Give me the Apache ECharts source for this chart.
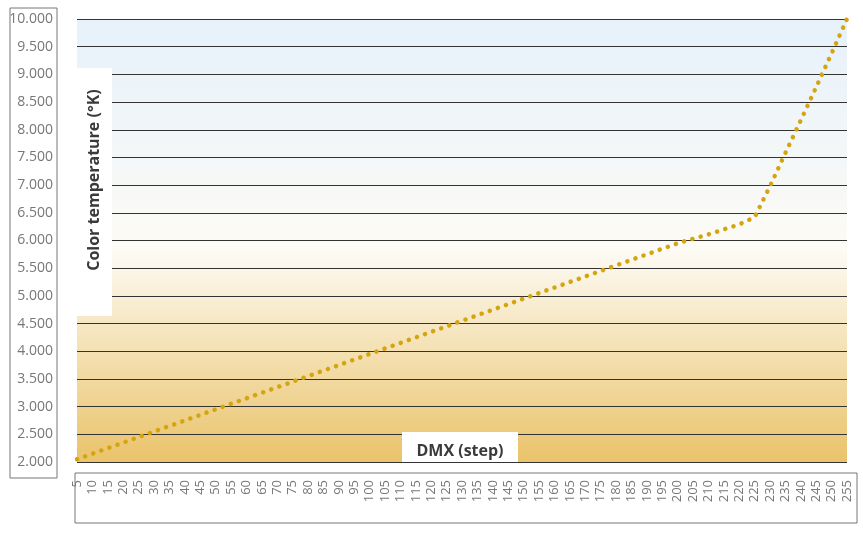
<!DOCTYPE html>
<html lang="en">
<head>
    <meta charset="UTF-8">
    <title>DMX color temperature</title>
    <script src="https://cdn.jsdelivr.net/npm/echarts@6/dist/echarts.min.js"></script>
</head>
<body style="margin:0;background:#fff">
<div id="main" style="width:863px; height:543px"></div>
<script>
    var steps = [];
    for (var s = 5; s <= 255; s += 5) steps.push(String(s));
    // kelvin at each step
    var kelvin = [2050, 2150, 2250, 2350, 2450, 2550, 2650, 2750, 2850, 2950,
        3050, 3150, 3250, 3350, 3450, 3550, 3650, 3750, 3850, 3950,
        4050, 4150, 4250, 4350, 4450, 4550, 4650, 4750, 4850, 4950,
        5050, 5150, 5250, 5350, 5450, 5550, 5650, 5750, 5850, 5950,
        6030, 6110, 6200, 6290, 6420, 6980, 7580, 8170, 8770, 9380, 10000];

    var myChart = echarts.init(document.getElementById('main'));
    option = {
        animation: false,
        grid: {left: 77, right: 16, top: 19, bottom: 81, show: true, borderWidth: 0,
            backgroundColor: new echarts.graphic.LinearGradient(0, 0, 0, 1, [
                {offset: 0, color: '#e6f1fb'},
                {offset: 0.52, color: '#fdfbf5'},
                {offset: 1, color: '#eac36a'}
            ])},
        graphic: [
            {type: 'rect', shape: {x: 10, y: 8, width: 47, height: 470}, style: {fill: 'none', stroke: '#777', lineWidth: 1}},
            {type: 'rect', shape: {x: 75, y: 473, width: 782, height: 50}, style: {fill: 'none', stroke: '#777', lineWidth: 1}},
            {type: 'rect', z: 10, shape: {x: 77, y: 68, width: 35, height: 248}, style: {fill: '#fff'}},
            {type: 'text', z: 11, x: 94, y: 180, rotation: Math.PI / 2,
                style: {text: 'Color temperature (°K)', fill: '#3a3a3a', font: 'bold 16px "Open Sans"', align: 'center', verticalAlign: 'middle'}},
            {type: 'rect', z: 10, shape: {x: 402, y: 432, width: 116, height: 30}, style: {fill: '#fff'}},
            {type: 'text', z: 11, x: 460, y: 451,
                style: {text: 'DMX (step)', fill: '#3a3a3a', font: 'bold 16px "Open Sans"', align: 'center', verticalAlign: 'middle'}}
        ],
        xAxis: {
            type: 'category', data: steps, boundaryGap: false,
            axisLine: {show: false}, axisTick: {show: false},
            axisLabel: {rotate: 90, interval: 0, color: '#777', fontSize: 13, margin: 18, fontFamily: 'Open Sans'}
        },
        yAxis: {
            type: 'value', min: 2000, max: 10000, interval: 500,
            axisLine: {show: false}, axisTick: {show: false},
            axisLabel: {color: '#777', fontSize: 14, margin: 24, fontFamily: 'Open Sans',
                formatter: function (v) { return v >= 10000 ? '10.000' : String(v).replace(/(\d)(\d{3})$/, '$1.$2'); }},
            splitLine: {lineStyle: {color: '#333', width: 1}}
        },
        series: [{
            type: 'line', data: kelvin, showSymbol: false,
            lineStyle: {color: '#d4a50f', width: 4.5, type: [0.1, 8.5], cap: 'round'}
        }]
    };
    myChart.setOption(option);
</script>
</body>
</html>
